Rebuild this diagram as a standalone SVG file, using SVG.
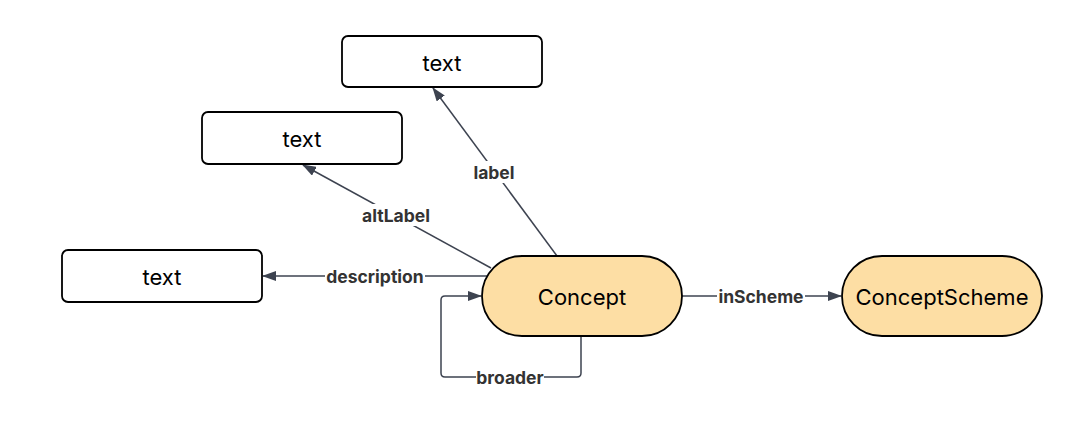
<svg xmlns="http://www.w3.org/2000/svg" width="1069" height="436" viewBox="0 0 1069 436">
<defs>
<style>
.box{fill:#ffffff;stroke:#000;stroke-width:1.8}
.pill{fill:#fddea4;stroke:#000;stroke-width:1.8}
.nt{font-family:Inter,"Noto Sans",sans-serif;font-size:22px;fill:#000;text-anchor:middle;dominant-baseline:central}
.edge{fill:none;stroke:#3d4350;stroke-width:1.5}
.lbl{font-family:Inter,"Liberation Sans",sans-serif;font-size:17.5px;font-weight:bold;fill:#333;text-anchor:middle;dominant-baseline:central}
.lb{fill:#fff}
</style>
<marker id="arr" viewBox="0 0 14 10" refX="13" refY="5" markerWidth="14" markerHeight="10" markerUnits="userSpaceOnUse" orient="auto">
<path d="M0,0 L14,5 L0,10 Z" fill="#3d4350"/>
</marker>
</defs>
<rect width="1069" height="436" fill="#fff"/>
<g id="connectors">
<path class="edge" d="M557,256 L433,88" marker-end="url(#arr)"/>
<path class="edge" d="M491,268 L303,165" marker-end="url(#arr)"/>
<path class="edge" d="M488,276 L263,276" marker-end="url(#arr)"/>
<path class="edge" d="M581,336 L581,373 Q581,377 577,377 L445,377 Q441,377 441,373 L441,300 Q441,296 445,296 L481,296" marker-end="url(#arr)"/>
<path class="edge" d="M682,296 L841,296" marker-end="url(#arr)"/>
<g>
<rect class="lb" x="470" y="161" width="48" height="22"/>
<text class="lbl" x="494" y="172">label</text>
<rect class="lb" x="357" y="204" width="78" height="22"/>
<text class="lbl" x="396" y="215">altLabel</text>
<rect class="lb" x="325" y="265" width="100" height="22"/>
<text class="lbl" x="375" y="276">description</text>
<rect class="lb" x="476" y="366" width="68" height="22"/>
<text class="lbl" x="510" y="377">broader</text>
<rect class="lb" x="717" y="285" width="88" height="22"/>
<text class="lbl" x="761" y="296">inScheme</text>
</g>
</g>
<g id="node-text-label">
<rect class="box" x="342" y="36" width="200" height="51" rx="6"/>
<text class="nt" x="442" y="63">text</text>
</g>
<g id="node-text-altlabel">
<rect class="box" x="202" y="112" width="200" height="52" rx="6"/>
<text class="nt" x="302" y="139">text</text>
</g>
<g id="node-text-description">
<rect class="box" x="62" y="250" width="200" height="52" rx="6"/>
<text class="nt" x="162" y="277">text</text>
</g>
<g id="node-concept">
<rect class="pill" x="482" y="256" width="200" height="80" rx="40"/>
<text class="nt" x="582" y="297">Concept</text>
</g>
<g id="node-conceptscheme">
<rect class="pill" x="842" y="256" width="200" height="80" rx="40"/>
<text class="nt" x="942" y="297">ConceptScheme</text>
</g>
</svg>
